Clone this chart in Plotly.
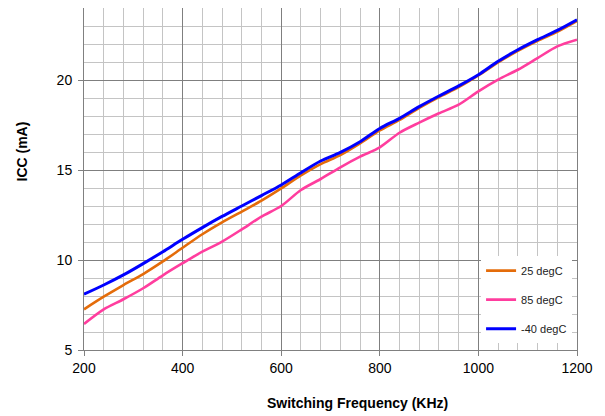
import plotly.graph_objects as go

freq = [200, 240, 280, 320, 360, 400, 440, 480, 520, 560, 600, 640, 680,
        720, 760, 800, 840, 880, 920, 960, 1000, 1040, 1080, 1120, 1160, 1200]

icc_25 = [7.26, 7.96, 8.61, 9.22, 9.92, 10.68, 11.43, 12.09, 12.69, 13.3, 13.98,
          14.7, 15.33, 15.83, 16.48, 17.2, 17.78, 18.45, 19.05, 19.6, 20.25,
          20.98, 21.62, 22.18, 22.68, 23.28]
icc_85 = [6.45, 7.26, 7.82, 8.43, 9.15, 9.82, 10.46, 11.02, 11.7, 12.41, 13.0,
          13.89, 14.5, 15.15, 15.74, 16.26, 17.07, 17.63, 18.15, 18.63, 19.37,
          20.02, 20.57, 21.22, 21.87, 22.24]
icc_m40 = [8.1, 8.61, 9.17, 9.8, 10.46, 11.15, 11.8, 12.42, 13.0, 13.58,
           14.17, 14.85, 15.5, 15.98, 16.57, 17.31, 17.87, 18.52, 19.11, 19.67,
           20.29, 21.04, 21.68, 22.24, 22.76, 23.35]

series_names = ["25 degC", "85 degC", "-40 degC"]
x_ticks = [200, 400, 600, 800, 1000, 1200]
y_ticks = [5, 10, 15, 20]

fig = go.Figure()
# draw order: pink, orange, blue (blue on top); legend order via legendrank
fig.add_trace(go.Scatter(x=freq, y=icc_85, name=series_names[1], mode="lines",
                         line=dict(color="#FF3D9E", width=2.6, shape="spline", smoothing=0.8),
                         legendgroup="b", legendrank=2))
fig.add_trace(go.Scatter(x=freq, y=icc_25, name=series_names[0], mode="lines",
                         line=dict(color="#E46C0A", width=2.6, shape="spline", smoothing=0.8),
                         legendgroup="a", legendrank=1))
fig.add_trace(go.Scatter(x=freq, y=icc_m40, name=series_names[2], mode="lines",
                         line=dict(color="#0000FF", width=3, shape="spline", smoothing=0.8),
                         legendgroup="c", legendrank=3))

font_family = "Liberation Sans, Arial, sans-serif"

# page body has an 8px default margin, so the figure is drawn 8px in from the corner
fig.update_layout(
    width=597, height=408,
    margin=dict(l=76, r=28, t=0, b=66, autoexpand=False),
    paper_bgcolor="white", plot_bgcolor="white",
    font=dict(family=font_family, size=14, color="#000000"),
    showlegend=True,
    legend=dict(
        x=0.99, xanchor="right", y=0.02, yanchor="bottom",
        bgcolor="white", borderwidth=0,
        font=dict(size=11, color="#222222"),
        traceorder="grouped", tracegroupgap=10,
        itemwidth=30,
    ),
    xaxis=dict(
        range=[200, 1200], tickvals=x_ticks, ticks="outside", ticklen=5,
        tickcolor="#808080", showline=True, mirror=True, linecolor="#808080",
        linewidth=1, showgrid=True, gridcolor="#7f7f7f", gridwidth=1,
        zeroline=False, tickfont=dict(size=14),
        minor=dict(dtick=40, tick0=200, showgrid=True, gridcolor="#c4c4c4", gridwidth=1),
    ),
    yaxis=dict(
        range=[5, 24], tickvals=y_ticks, ticks="outside", ticklen=5,
        tickcolor="#808080", showline=True, mirror=True, linecolor="#808080",
        linewidth=1, showgrid=True, gridcolor="#7f7f7f", gridwidth=1,
        zeroline=False, tickfont=dict(size=14), ticklabelstandoff=3,
        minor=dict(dtick=1, tick0=5, showgrid=True, gridcolor="#c4c4c4", gridwidth=1),
    ),
    annotations=[
        dict(text="<b>Switching Frequency (KHz)</b>", xref="paper", yref="paper",
             x=(357 - 84) / 493, y=-(403 - 350) / 342, xanchor="center", yanchor="middle",
             showarrow=False, font=dict(size=14)),
        dict(text="<b>ICC (mA)</b>", xref="paper", yref="paper",
             x=-(84 - 21) / 493, y=(350 - 151.5) / 342, xanchor="center", yanchor="middle",
             showarrow=False, textangle=-90, font=dict(size=14)),
    ],
)

fig.write_html("out.html")
